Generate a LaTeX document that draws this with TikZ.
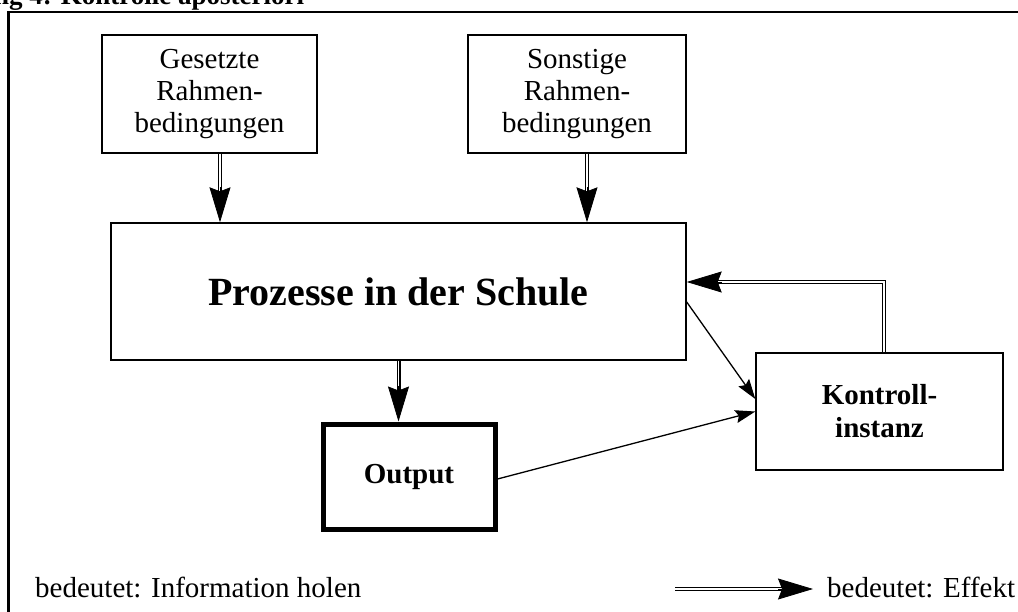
\documentclass[tikz,border=0pt]{standalone}
\usepackage{fontspec}
\setmainfont{Liberation Serif}
\usetikzlibrary{arrows.meta,calc}
\tikzset{
  box/.style={draw, line width=1.4pt, inner sep=0pt, align=center},
  regtext/.style={font=\fontsize{29}{32}\selectfont},
  boldtext/.style={font=\bfseries\fontsize{29}{33}\selectfont},
  dblline/.style={draw, line width=1.1pt, double, double distance=1.8pt},
  efftip/.style={line width=0.8pt, -{Stealth[length=35pt, width=21pt, inset=4pt]}},
  infoarrow/.style={line width=1.3pt, -{Stealth[length=20pt, width=13pt, inset=3pt]}},
  plain/.style={inner sep=0pt, anchor=base west}
}
\begin{document}
\begin{tikzpicture}[x=1pt,y=-1pt]
\useasboundingbox (0,0) rectangle (1018,612);
\clip (0,0) rectangle (1018,612);
% frame
\draw[line width=2.2pt] (8.5,640) -- (8.5,12) -- (1020,12);
% title
\node[plain, font=\bfseries\fontsize{27}{30}\selectfont] (title) at (-6,5) {ng 4: Kontrolle aposteriori};
% boxes
\node[box, regtext, minimum width=215, minimum height=118] (ges) at (209.5,94) {Gesetzte\\Rahmen-\\bedingungen};
\node[box, regtext, minimum width=218, minimum height=118] (son) at (577,94) {Sonstige\\Rahmen-\\bedingungen};
\node[box, font=\bfseries\fontsize{40}{44}\selectfont, minimum width=575, minimum height=137] (proz) at (398.5,291.5) {Prozesse in der Schule};
\node[box, line width=5pt, minimum width=172, minimum height=105] (out) at (409,476.5) {};
\node[plain, boldtext, anchor=base] (outtxt) at (409,483) {Output};
\node[box, boldtext, minimum width=247, minimum height=117] (kon) at (879.5,411.5) {Kontroll-\\instanz};
% effect arrows (double)
\coordinate (g1) at ($(ges.south)+(10.5,0)$);
\coordinate (g2) at (g1 |- proz.north);
\draw[dblline, shorten >=30pt] (g1) -- (g2);
\draw[efftip] ($(g2)+(0,-35)$) -- (g2);
\coordinate (s1) at ($(son.south)+(10,0)$);
\coordinate (s2) at (s1 |- proz.north);
\draw[dblline, shorten >=30pt] (s1) -- (s2);
\draw[efftip] ($(s2)+(0,-35)$) -- (s2);
\coordinate (p1) at (proz.south);
\coordinate (p2) at (p1 |- out.north);
\draw[dblline, shorten >=30pt] (p1) -- (p2);
\draw[efftip] ($(p2)+(0,-35)$) -- (p2);
\coordinate (f1) at ($(kon.north)+(4.5,0)$);
\coordinate (f2) at ($(proz.east)+(0,-9.5)$);
\draw[dblline] (f1) |- ($(f2)+(30,0)$);
\draw[efftip] ($(f2)+(35,0)$) -- (f2);
% information arrows
\draw[infoarrow] ($(proz.east)+(0,10.5)$) -- ($(kon.west)+(0,-12.5)$);
\draw[infoarrow] ($(out.east)+(0,2.5)$) -- (kon.west);
% legend
\node[plain, regtext] (leg1) at (35,597) {bedeutet: Information holen};
\coordinate (l1) at (675,589);
\coordinate (l2) at (813,589);
\draw[dblline, shorten >=30pt] (l1) -- (l2);
\draw[efftip] ($(l2)+(-35,0)$) -- (l2);
\node[plain, regtext] (leg2) at (827,597) {bedeutet: Effekt};
\end{tikzpicture}
\end{document}
